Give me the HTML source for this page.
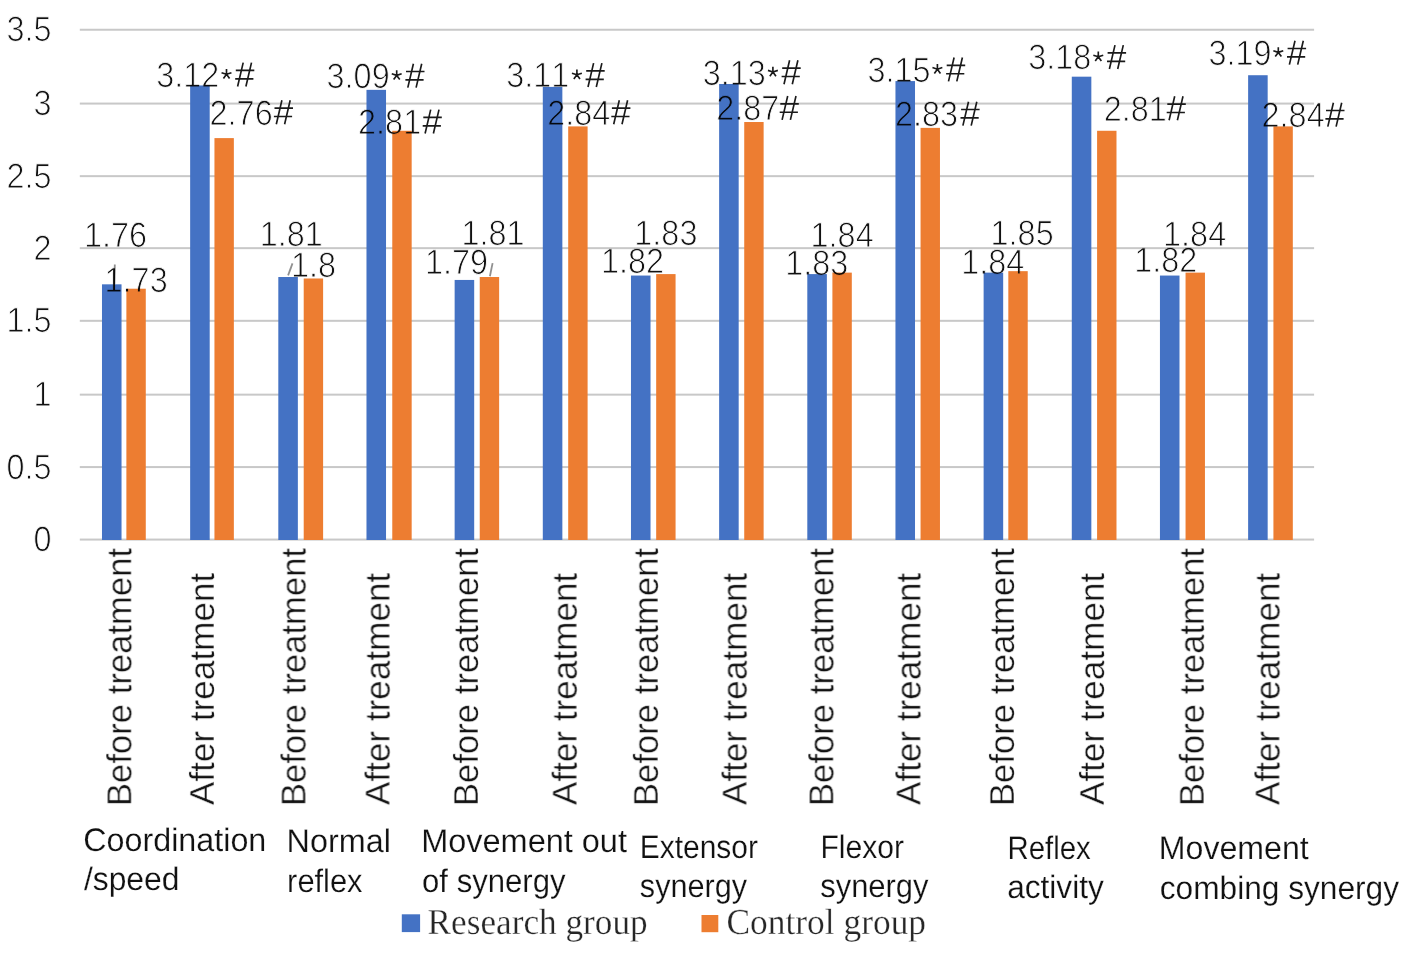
<!DOCTYPE html>
<html><head><meta charset="utf-8"><style>
html,body{margin:0;padding:0;background:#fff;width:1417px;height:962px;overflow:hidden}
svg{display:block}
text{font-kerning:none;white-space:pre;text-rendering:geometricPrecision}
.t{mix-blend-mode:multiply}
.t text{stroke:#fff}
</style></head><body>
<svg width="1417" height="962" viewBox="0 0 1417 962">
<rect width="1417" height="962" fill="#fff"/>
<rect x="79.80" y="538.57" width="1234.30" height="2" fill="#C8C8C8"/>
<rect x="79.80" y="466.07" width="1234.30" height="2" fill="#C8C8C8"/>
<rect x="79.80" y="393.65" width="1234.30" height="2" fill="#C8C8C8"/>
<rect x="79.80" y="319.82" width="1234.30" height="2" fill="#C8C8C8"/>
<rect x="79.80" y="247.15" width="1234.30" height="2" fill="#C8C8C8"/>
<rect x="79.80" y="175.15" width="1234.30" height="2" fill="#C8C8C8"/>
<rect x="79.80" y="102.57" width="1234.30" height="2" fill="#C8C8C8"/>
<rect x="79.80" y="28.74" width="1234.30" height="2" fill="#C8C8C8"/>
<rect x="101.98" y="284.33" width="19.55" height="255.67" fill="#4472C4"/>
<rect x="126.38" y="288.71" width="19.4" height="251.29" fill="#ED7D31"/>
<rect x="190.15" y="85.45" width="19.55" height="454.55" fill="#4472C4"/>
<rect x="214.45" y="138.10" width="19.4" height="401.90" fill="#ED7D31"/>
<rect x="278.31" y="277.01" width="19.55" height="262.99" fill="#4472C4"/>
<rect x="303.71" y="278.48" width="19.4" height="261.52" fill="#ED7D31"/>
<rect x="366.48" y="89.84" width="19.55" height="450.16" fill="#4472C4"/>
<rect x="392.27" y="130.78" width="19.4" height="409.22" fill="#ED7D31"/>
<rect x="454.64" y="279.94" width="19.55" height="260.06" fill="#4472C4"/>
<rect x="479.74" y="277.01" width="19.4" height="262.99" fill="#ED7D31"/>
<rect x="542.80" y="86.91" width="19.55" height="453.09" fill="#4472C4"/>
<rect x="568.20" y="126.40" width="19.4" height="413.60" fill="#ED7D31"/>
<rect x="630.97" y="275.55" width="19.55" height="264.45" fill="#4472C4"/>
<rect x="656.17" y="274.09" width="19.4" height="265.91" fill="#ED7D31"/>
<rect x="719.13" y="83.99" width="19.55" height="456.01" fill="#4472C4"/>
<rect x="744.23" y="122.01" width="19.4" height="417.99" fill="#ED7D31"/>
<rect x="807.30" y="274.09" width="19.55" height="265.91" fill="#4472C4"/>
<rect x="832.40" y="272.63" width="19.4" height="267.37" fill="#ED7D31"/>
<rect x="895.46" y="81.07" width="19.55" height="458.93" fill="#4472C4"/>
<rect x="920.56" y="127.86" width="19.4" height="412.14" fill="#ED7D31"/>
<rect x="983.62" y="272.63" width="19.55" height="267.37" fill="#4472C4"/>
<rect x="1008.32" y="271.16" width="19.4" height="268.84" fill="#ED7D31"/>
<rect x="1071.79" y="76.68" width="19.55" height="463.32" fill="#4472C4"/>
<rect x="1097.09" y="130.78" width="19.4" height="409.22" fill="#ED7D31"/>
<rect x="1159.95" y="275.55" width="19.55" height="264.45" fill="#4472C4"/>
<rect x="1185.55" y="272.63" width="19.4" height="267.37" fill="#ED7D31"/>
<rect x="1248.12" y="75.22" width="19.55" height="464.78" fill="#4472C4"/>
<rect x="1273.42" y="126.40" width="19.4" height="413.60" fill="#ED7D31"/>
<rect x="401.8" y="914.3" width="18.3" height="17.8" fill="#4472C4"/>
<rect x="701.5" y="915" width="16.8" height="17.2" fill="#ED7D31"/>
<line x1="114.8" y1="264.6" x2="114.3" y2="284.0" stroke="#909090" stroke-width="1.8"/>
<line x1="288.1" y1="275.4" x2="292.5" y2="263.4" stroke="#909090" stroke-width="1.8"/>
<line x1="489.9" y1="276.3" x2="492.6" y2="263.1" stroke="#909090" stroke-width="1.8"/>
<g class="t">
<text transform="translate(33.48 551.10) scale(1.0000 1.0900)" font-family="Liberation Sans" font-size="32.4" fill="#111111" stroke-width="0.86">0</text>
<text transform="translate(6.46 478.60) scale(1.0000 1.0900)" font-family="Liberation Sans" font-size="32.4" fill="#111111" stroke-width="0.86">0.5</text>
<text transform="translate(33.48 406.18) scale(1.0000 1.0900)" font-family="Liberation Sans" font-size="32.4" fill="#111111" stroke-width="0.86">1</text>
<text transform="translate(6.46 332.35) scale(1.0000 1.0900)" font-family="Liberation Sans" font-size="32.4" fill="#111111" stroke-width="0.86">1.5</text>
<text transform="translate(33.48 259.68) scale(1.0000 1.0900)" font-family="Liberation Sans" font-size="32.4" fill="#111111" stroke-width="0.86">2</text>
<text transform="translate(6.46 187.68) scale(1.0000 1.0900)" font-family="Liberation Sans" font-size="32.4" fill="#111111" stroke-width="0.86">2.5</text>
<text transform="translate(33.48 115.10) scale(1.0000 1.0900)" font-family="Liberation Sans" font-size="32.4" fill="#111111" stroke-width="0.86">3</text>
<text transform="translate(6.46 41.27) scale(1.0000 1.0900)" font-family="Liberation Sans" font-size="32.4" fill="#111111" stroke-width="0.86">3.5</text>
<text transform="translate(156.20 86.80) scale(1.0000 1.0900)" font-family="Liberation Sans" font-size="32.4" fill="#111111" stroke-width="0.86">3.12</text>
<text transform="translate(326.60 87.90) scale(1.0000 1.0900)" font-family="Liberation Sans" font-size="32.4" fill="#111111" stroke-width="0.86">3.09</text>
<text transform="translate(506.20 87.30) scale(1.0000 1.0900)" font-family="Liberation Sans" font-size="32.4" fill="#111111" stroke-width="0.86">3.11</text>
<text transform="translate(702.70 84.50) scale(1.0000 1.0900)" font-family="Liberation Sans" font-size="32.4" fill="#111111" stroke-width="0.86">3.13</text>
<text transform="translate(867.50 81.70) scale(1.0000 1.0900)" font-family="Liberation Sans" font-size="32.4" fill="#111111" stroke-width="0.86">3.15</text>
<text transform="translate(1028.30 69.30) scale(1.0000 1.0900)" font-family="Liberation Sans" font-size="32.4" fill="#111111" stroke-width="0.86">3.18</text>
<text transform="translate(1208.40 64.90) scale(1.0000 1.0900)" font-family="Liberation Sans" font-size="32.4" fill="#111111" stroke-width="0.86">3.19</text>
<text transform="translate(209.60 124.50) scale(1.0000 1.0900)" font-family="Liberation Sans" font-size="32.4" fill="#111111" stroke-width="0.86">2.76</text>
<text transform="translate(358.10 133.80) scale(1.0000 1.0900)" font-family="Liberation Sans" font-size="32.4" fill="#111111" stroke-width="0.86">2.81</text>
<text transform="translate(547.30 124.50) scale(1.0000 1.0900)" font-family="Liberation Sans" font-size="32.4" fill="#111111" stroke-width="0.86">2.84</text>
<text transform="translate(716.30 120.20) scale(1.0000 1.0900)" font-family="Liberation Sans" font-size="32.4" fill="#111111" stroke-width="0.86">2.87</text>
<text transform="translate(895.00 125.90) scale(1.0000 1.0900)" font-family="Liberation Sans" font-size="32.4" fill="#111111" stroke-width="0.86">2.83</text>
<text transform="translate(1103.80 120.50) scale(1.0000 1.0900)" font-family="Liberation Sans" font-size="32.4" fill="#111111" stroke-width="0.86">2.81</text>
<text transform="translate(1261.60 126.90) scale(1.0000 1.0900)" font-family="Liberation Sans" font-size="32.4" fill="#111111" stroke-width="0.86">2.84</text>
<text transform="translate(84.05 246.70) scale(1.0000 1.0900)" font-family="Liberation Sans" font-size="32.4" fill="#111111" stroke-width="0.86">1.76</text>
<text transform="translate(104.60 291.70) scale(1.0000 1.0900)" font-family="Liberation Sans" font-size="32.4" fill="#111111" stroke-width="0.86">1.73</text>
<text transform="translate(259.80 245.60) scale(1.0000 1.0900)" font-family="Liberation Sans" font-size="32.4" fill="#111111" stroke-width="0.86">1.81</text>
<text transform="translate(290.95 276.50) scale(1.0000 1.0900)" font-family="Liberation Sans" font-size="32.4" fill="#111111" stroke-width="0.86">1.8</text>
<text transform="translate(425.00 273.70) scale(1.0000 1.0900)" font-family="Liberation Sans" font-size="32.4" fill="#111111" stroke-width="0.86">1.79</text>
<text transform="translate(461.45 245.10) scale(1.0000 1.0900)" font-family="Liberation Sans" font-size="32.4" fill="#111111" stroke-width="0.86">1.81</text>
<text transform="translate(601.00 272.50) scale(1.0000 1.0900)" font-family="Liberation Sans" font-size="32.4" fill="#111111" stroke-width="0.86">1.82</text>
<text transform="translate(634.35 245.00) scale(1.0000 1.0900)" font-family="Liberation Sans" font-size="32.4" fill="#111111" stroke-width="0.86">1.83</text>
<text transform="translate(785.25 274.90) scale(1.0000 1.0900)" font-family="Liberation Sans" font-size="32.4" fill="#111111" stroke-width="0.86">1.83</text>
<text transform="translate(810.60 246.50) scale(1.0000 1.0900)" font-family="Liberation Sans" font-size="32.4" fill="#111111" stroke-width="0.86">1.84</text>
<text transform="translate(961.30 273.70) scale(1.0000 1.0900)" font-family="Liberation Sans" font-size="32.4" fill="#111111" stroke-width="0.86">1.84</text>
<text transform="translate(990.60 245.10) scale(1.0000 1.0900)" font-family="Liberation Sans" font-size="32.4" fill="#111111" stroke-width="0.86">1.85</text>
<text transform="translate(1134.15 272.20) scale(1.0000 1.0900)" font-family="Liberation Sans" font-size="32.4" fill="#111111" stroke-width="0.86">1.82</text>
<text transform="translate(1163.10 246.40) scale(1.0000 1.0900)" font-family="Liberation Sans" font-size="32.4" fill="#111111" stroke-width="0.86">1.84</text>
<text transform="translate(131.29 806.10) rotate(-90) scale(0.9992 1)" font-family="Liberation Sans" font-size="34.7" fill="#111111" stroke-width="0.40">Before treatment</text>
<text transform="translate(213.94 805.10) rotate(-90) scale(1.0122 1)" font-family="Liberation Sans" font-size="34.7" fill="#111111" stroke-width="0.40">After treatment</text>
<text transform="translate(305.49 806.10) rotate(-90) scale(0.9992 1)" font-family="Liberation Sans" font-size="34.7" fill="#111111" stroke-width="0.40">Before treatment</text>
<text transform="translate(389.54 805.10) rotate(-90) scale(1.0122 1)" font-family="Liberation Sans" font-size="34.7" fill="#111111" stroke-width="0.40">After treatment</text>
<text transform="translate(477.94 806.10) rotate(-90) scale(0.9992 1)" font-family="Liberation Sans" font-size="34.7" fill="#111111" stroke-width="0.40">Before treatment</text>
<text transform="translate(576.64 805.10) rotate(-90) scale(1.0122 1)" font-family="Liberation Sans" font-size="34.7" fill="#111111" stroke-width="0.40">After treatment</text>
<text transform="translate(657.84 806.10) rotate(-90) scale(0.9992 1)" font-family="Liberation Sans" font-size="34.7" fill="#111111" stroke-width="0.40">Before treatment</text>
<text transform="translate(746.54 805.10) rotate(-90) scale(1.0122 1)" font-family="Liberation Sans" font-size="34.7" fill="#111111" stroke-width="0.40">After treatment</text>
<text transform="translate(833.34 806.10) rotate(-90) scale(0.9992 1)" font-family="Liberation Sans" font-size="34.7" fill="#111111" stroke-width="0.40">Before treatment</text>
<text transform="translate(920.44 805.10) rotate(-90) scale(1.0122 1)" font-family="Liberation Sans" font-size="34.7" fill="#111111" stroke-width="0.40">After treatment</text>
<text transform="translate(1013.94 806.10) rotate(-90) scale(0.9992 1)" font-family="Liberation Sans" font-size="34.7" fill="#111111" stroke-width="0.40">Before treatment</text>
<text transform="translate(1103.94 805.10) rotate(-90) scale(1.0122 1)" font-family="Liberation Sans" font-size="34.7" fill="#111111" stroke-width="0.40">After treatment</text>
<text transform="translate(1203.74 806.10) rotate(-90) scale(0.9992 1)" font-family="Liberation Sans" font-size="34.7" fill="#111111" stroke-width="0.40">Before treatment</text>
<text transform="translate(1279.44 805.10) rotate(-90) scale(1.0122 1)" font-family="Liberation Sans" font-size="34.7" fill="#111111" stroke-width="0.40">After treatment</text>
<text transform="translate(83.21 850.70) scale(0.9912 1.0000)" font-family="Liberation Sans" font-size="32.6" fill="#111111" stroke-width="0.20">Coordination</text>
<text transform="translate(83.90 890.10) scale(0.9770 1.0000)" font-family="Liberation Sans" font-size="32.6" fill="#111111" stroke-width="0.20">/speed</text>
<text transform="translate(286.62 852.10) scale(0.9930 1.0000)" font-family="Liberation Sans" font-size="32.6" fill="#111111" stroke-width="0.20">Normal</text>
<text transform="translate(287.12 891.70) scale(0.9455 1.0000)" font-family="Liberation Sans" font-size="32.6" fill="#111111" stroke-width="0.21">reflex</text>
<text transform="translate(421.21 852.00) scale(0.9966 1.0000)" font-family="Liberation Sans" font-size="32.6" fill="#111111" stroke-width="0.20">Movement out</text>
<text transform="translate(422.06 891.60) scale(0.9543 1.0000)" font-family="Liberation Sans" font-size="32.6" fill="#111111" stroke-width="0.20">of synergy</text>
<text transform="translate(639.82 857.60) scale(0.9187 1.0000)" font-family="Liberation Sans" font-size="32.6" fill="#111111" stroke-width="0.21">Extensor</text>
<text transform="translate(639.85 897.10) scale(0.9390 1.0000)" font-family="Liberation Sans" font-size="32.6" fill="#111111" stroke-width="0.21">synergy</text>
<text transform="translate(820.51 857.70) scale(0.9221 1.0000)" font-family="Liberation Sans" font-size="32.6" fill="#111111" stroke-width="0.21">Flexor</text>
<text transform="translate(820.25 897.40) scale(0.9488 1.0000)" font-family="Liberation Sans" font-size="32.6" fill="#111111" stroke-width="0.21">synergy</text>
<text transform="translate(1007.57 858.90) scale(0.9003 1.0000)" font-family="Liberation Sans" font-size="32.6" fill="#111111" stroke-width="0.21">Reflex</text>
<text transform="translate(1007.14 898.30) scale(0.9704 1.0000)" font-family="Liberation Sans" font-size="32.6" fill="#111111" stroke-width="0.20">activity</text>
<text transform="translate(1158.84 859.30) scale(0.9853 1.0000)" font-family="Liberation Sans" font-size="32.6" fill="#111111" stroke-width="0.20">Movement</text>
<text transform="translate(1159.74 898.60) scale(0.9714 1.0000)" font-family="Liberation Sans" font-size="32.6" fill="#111111" stroke-width="0.20">combing synergy</text>
<text transform="translate(427.59 933.90) scale(1.0121 1.0480)" font-family="Liberation Serif" font-size="34.8" fill="#262626" stroke-width="0.29">Research group</text>
<text transform="translate(726.48 933.50) scale(1.0171 1.0480)" font-family="Liberation Serif" font-size="34.8" fill="#262626" stroke-width="0.29">Control group</text>
</g>
<g fill="none" stroke="#1a1a1a" stroke-width="1.65" stroke-linecap="butt">
<path d="M235.80 70.40H254.30M235.20 78.80H253.40M243.20 62.60L237.60 86.50M251.50 62.60L245.90 86.50"/>
<path d="M226.50 74.30L226.50 69.10M226.50 74.30L231.45 72.69M226.50 74.30L229.56 78.51M226.50 74.30L223.44 78.51M226.50 74.30L221.55 72.69"/>
<path d="M406.00 71.50H424.50M405.40 79.90H423.60M413.40 63.70L407.80 87.60M421.70 63.70L416.10 87.60"/>
<path d="M396.70 75.40L396.70 70.20M396.70 75.40L401.65 73.79M396.70 75.40L399.76 79.61M396.70 75.40L393.64 79.61M396.70 75.40L391.75 73.79"/>
<path d="M586.20 70.90H604.70M585.60 79.30H603.80M593.60 63.10L588.00 87.00M601.90 63.10L596.30 87.00"/>
<path d="M576.90 74.80L576.90 69.60M576.90 74.80L581.85 73.19M576.90 74.80L579.96 79.01M576.90 74.80L573.84 79.01M576.90 74.80L571.95 73.19"/>
<path d="M782.20 68.10H800.70M781.60 76.50H799.80M789.60 60.30L784.00 84.20M797.90 60.30L792.30 84.20"/>
<path d="M772.90 72.00L772.90 66.80M772.90 72.00L777.85 70.39M772.90 72.00L775.96 76.21M772.90 72.00L769.84 76.21M772.90 72.00L767.95 70.39"/>
<path d="M946.70 65.30H965.20M946.10 73.70H964.30M954.10 57.50L948.50 81.40M962.40 57.50L956.80 81.40"/>
<path d="M937.40 69.20L937.40 64.00M937.40 69.20L942.35 67.59M937.40 69.20L940.46 73.41M937.40 69.20L934.34 73.41M937.40 69.20L932.45 67.59"/>
<path d="M1107.60 52.90H1126.10M1107.00 61.30H1125.20M1115.00 45.10L1109.40 69.00M1123.30 45.10L1117.70 69.00"/>
<path d="M1098.30 56.80L1098.30 51.60M1098.30 56.80L1103.25 55.19M1098.30 56.80L1101.36 61.01M1098.30 56.80L1095.24 61.01M1098.30 56.80L1093.35 55.19"/>
<path d="M1287.60 48.50H1306.10M1287.00 56.90H1305.20M1295.00 40.70L1289.40 64.60M1303.30 40.70L1297.70 64.60"/>
<path d="M1278.30 52.40L1278.30 47.20M1278.30 52.40L1283.25 50.79M1278.30 52.40L1281.36 56.61M1278.30 52.40L1275.24 56.61M1278.30 52.40L1273.35 50.79"/>
<path d="M274.50 108.10H293.00M273.90 116.50H292.10M281.90 100.30L276.30 124.20M290.20 100.30L284.60 124.20"/>
<path d="M423.30 117.40H441.80M422.70 125.80H440.90M430.70 109.60L425.10 133.50M439.00 109.60L433.40 133.50"/>
<path d="M611.90 108.10H630.40M611.30 116.50H629.50M619.30 100.30L613.70 124.20M627.60 100.30L622.00 124.20"/>
<path d="M780.30 103.80H798.80M779.70 112.20H797.90M787.70 96.00L782.10 119.90M796.00 96.00L790.40 119.90"/>
<path d="M961.10 109.50H979.60M960.50 117.90H978.70M968.50 101.70L962.90 125.60M976.80 101.70L971.20 125.60"/>
<path d="M1167.30 104.10H1185.80M1166.70 112.50H1184.90M1174.70 96.30L1169.10 120.20M1183.00 96.30L1177.40 120.20"/>
<path d="M1326.00 110.50H1344.50M1325.40 118.90H1343.60M1333.40 102.70L1327.80 126.60M1341.70 102.70L1336.10 126.60"/>
</g>
</svg>
</body></html>
